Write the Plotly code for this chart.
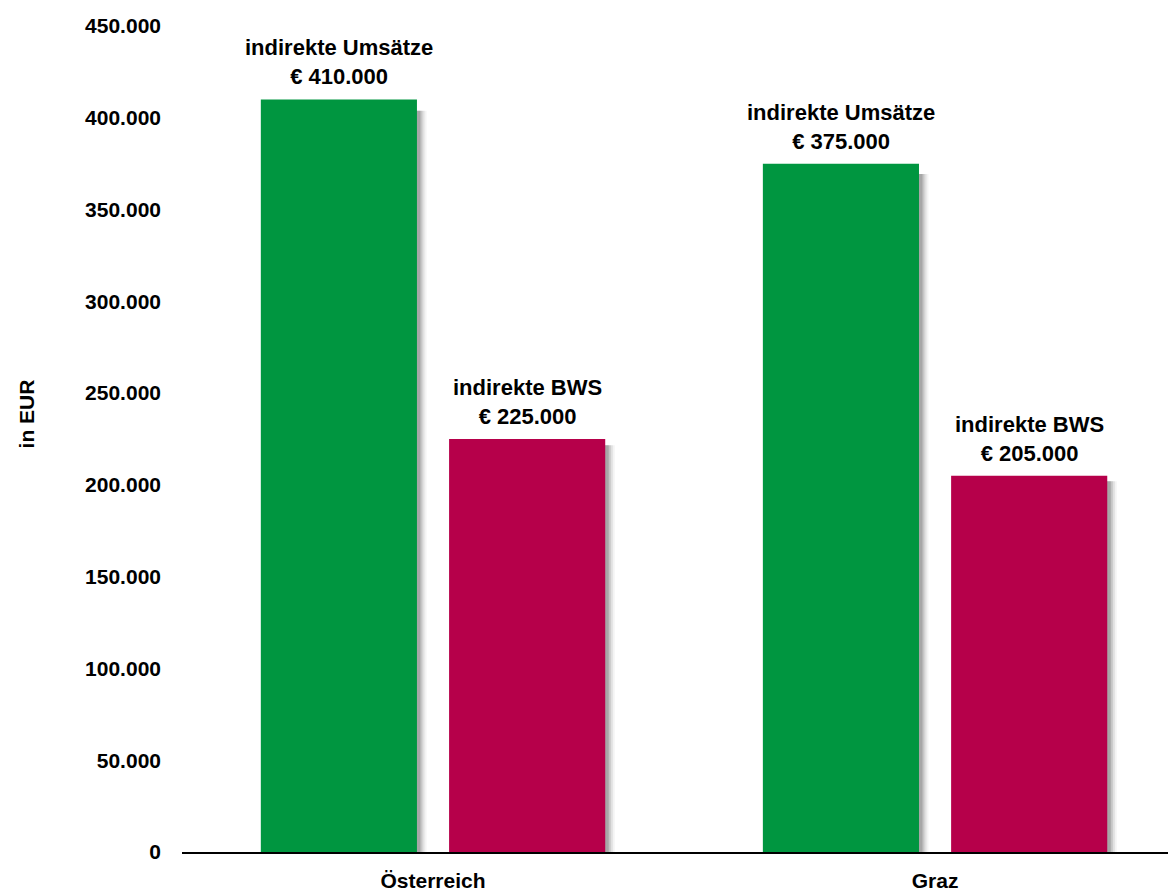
import plotly.graph_objects as go

categories = ["Österreich", "Graz"]
umsatz_values = [410000, 375000]
bws_values = [225000, 205000]
umsatz_labels = ["indirekte Umsätze<br>€ 410.000", "indirekte Umsätze<br>€ 375.000"]
bws_labels = ["indirekte BWS<br>€ 225.000", "indirekte BWS<br>€ 205.000"]
y_tickvals = [0, 50000, 100000, 150000, 200000, 250000, 300000, 350000, 400000, 450000]

GREEN = "rgb(0,150,64)"
RED = "rgb(182,0,74)"
FONT = "Arial, Liberation Sans"
BAR_W = 0.311
OFF_G = -0.343
OFF_R = 0.032

fig = go.Figure()

# soft shadows
for shift, op in [(0.019, 0.06), (0.015, 0.10), (0.011, 0.16), (0.007, 0.22)]:
    for vals, off in [(umsatz_values, OFF_G), (bws_values, OFF_R)]:
        fig.add_trace(go.Bar(
            x=categories, y=[v * 0.985 for v in vals], width=BAR_W, offset=off + shift,
            marker=dict(color="rgba(60,60,60,%s)" % op, line=dict(width=0)),
            hoverinfo="skip", showlegend=False))

fig.add_trace(go.Bar(
    x=categories, y=umsatz_values, width=BAR_W, offset=OFF_G,
    marker=dict(color=GREEN, line=dict(width=0)), showlegend=False))
fig.add_trace(go.Bar(
    x=categories, y=bws_values, width=BAR_W, offset=OFF_R,
    marker=dict(color=RED, line=dict(width=0)), showlegend=False))

# value labels above bars
for vals, labels, off in [(umsatz_values, umsatz_labels, OFF_G), (bws_values, bws_labels, OFF_R)]:
    for i, (v, t) in enumerate(zip(vals, labels)):
        fig.add_annotation(
            x=i + off + BAR_W / 2, y=v, xref="x", yref="y",
            text="<b>%s</b>" % t, showarrow=False,
            xanchor="center", yanchor="bottom", yshift=8,
            font=dict(family=FONT, size=22, color="black"))

# y axis title
fig.add_annotation(
    x=-0.158, y=0.53, xref="paper", yref="paper",
    text="<b>in EUR</b>", textangle=-90, showarrow=False,
    xanchor="center", yanchor="middle",
    font=dict(family=FONT, size=21, color="black"))

fig.update_layout(
    width=1171, height=891,
    barmode="overlay",
    separators=",.",
    plot_bgcolor="white", paper_bgcolor="white",
    margin=dict(l=182, r=3, t=26, b=39, autoexpand=False),
    font=dict(family=FONT, color="black"),
    xaxis=dict(
        range=[-0.5, 1.464], showgrid=False, zeroline=False,
        showline=True, linecolor="black", linewidth=2,
        tickfont=dict(size=21, family=FONT),
        tickvals=categories, ticktext=["<b>%s</b>" % c for c in categories],
        ticklabelstandoff=9, automargin=False),
    yaxis=dict(
        range=[0, 450000], showgrid=False, zeroline=False, showline=False,
        tickvals=y_tickvals, tickformat=",d",
        tickfont=dict(size=21, family=FONT, weight="bold"),
        ticklabelstandoff=20, automargin=False),
)

fig.write_html("out.html")
